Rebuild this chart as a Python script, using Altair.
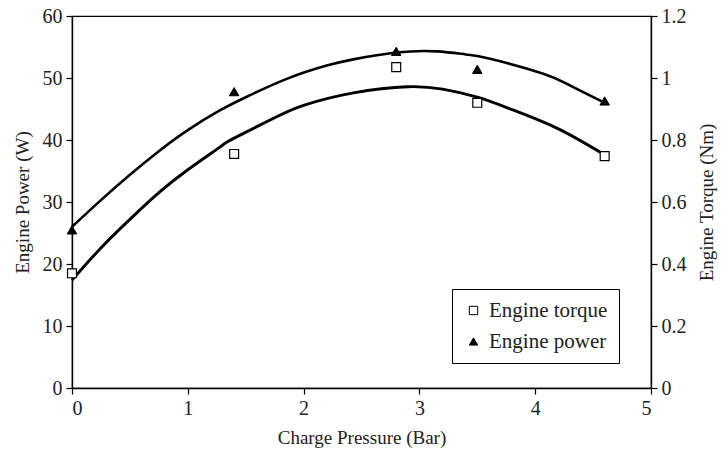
import altair as alt
import pandas as pd

# Fitted curves
power_fit_x = [0.0, 0.25, 0.5, 0.75, 1.0, 1.28, 1.5, 1.86, 2.2, 2.43, 2.8, 3.15, 3.4, 3.61, 4.07, 4.3, 4.6]
power_fit_w = [26.0, 30.3, 34.4, 38.2, 41.6, 44.8, 46.9, 49.9, 52.0, 53.0, 54.1, 54.3, 53.8, 53.1, 50.7, 48.8, 46.0]

torque_fit_x = [0.0, 0.25, 0.5, 0.75, 1.0, 1.28, 1.4, 1.75, 2.0, 2.43, 2.9, 3.2, 3.5, 3.8, 4.2, 4.6]
torque_fit_nm = [0.348, 0.452, 0.544, 0.63, 0.704, 0.778, 0.806, 0.872, 0.912, 0.952, 0.972, 0.964, 0.938, 0.898, 0.836, 0.752]

# Measured points
pressure_pts = [0.0, 1.4, 2.8, 3.5, 4.6]
power_pts = [25.5, 47.8, 54.3, 51.4, 46.3]
torque_pts = [0.37, 0.755, 1.035, 0.92, 0.748]

series_names = ["Engine torque", "Engine power"]

power_curve = pd.DataFrame({"x": power_fit_x, "y": power_fit_w})
torque_curve = pd.DataFrame({"x": torque_fit_x, "y": torque_fit_nm})
power_df = pd.DataFrame({"x": pressure_pts, "y": power_pts, "series": series_names[1]})
torque_df = pd.DataFrame({"x": pressure_pts, "y": torque_pts, "series": series_names[0]})

FONT = "Liberation Serif"
TXT = "#222222"

x_enc = alt.X("x:Q", scale=alt.Scale(domain=[0, 5], nice=False),
              axis=alt.Axis(values=[0, 1, 2, 3, 4, 5], title="Charge Pressure (Bar)",
                            format="d", titlePadding=10))

shape_scale = alt.Scale(domain=series_names, range=["square", "triangle-up"])
fill_scale = alt.Scale(domain=series_names, range=["white", "black"])
stroke_scale = alt.Scale(domain=series_names, range=["black", "black"])
legend = alt.Legend(title=None, orient="none", legendX=380, legendY=273,
                    strokeColor="black", padding=11, labelFontSize=21,
                    labelFont=FONT, labelColor=TXT, symbolSize=70,
                    symbolStrokeWidth=1,
                    rowPadding=9, labelOffset=5, fillColor="white")

y_left = alt.Y("y:Q", scale=alt.Scale(domain=[0, 60], nice=False),
               axis=alt.Axis(orient="left", values=[0, 10, 20, 30, 40, 50, 60],
                             title="Engine Power (W)", titlePadding=10))
y_right = alt.Y("y:Q", scale=alt.Scale(domain=[0, 1.2], nice=False),
                axis=alt.Axis(orient="right", values=[0, 0.2, 0.4, 0.6, 0.8, 1, 1.2],
                              format="~g", title="Engine Torque (Nm)", titleAngle=270,
                              titlePadding=30))

power_line = alt.Chart(power_curve).mark_line(color="black", strokeWidth=2.6, interpolate="natural").encode(x=x_enc, y=y_left)
power_marks = alt.Chart(power_df).mark_point(size=90, filled=False, strokeWidth=1, opacity=1).encode(
    x=x_enc, y=y_left,
    shape=alt.Shape("series:N", scale=shape_scale, legend=legend),
    fill=alt.Fill("series:N", scale=fill_scale, legend=legend),
    stroke=alt.Stroke("series:N", scale=stroke_scale, legend=legend))

torque_line = alt.Chart(torque_curve).mark_line(color="black", strokeWidth=2.9, interpolate="natural").encode(x=x_enc, y=y_right)
torque_marks = alt.Chart(torque_df).mark_point(size=80, filled=False, strokeWidth=1.2, opacity=1).encode(
    x=x_enc, y=y_right,
    shape=alt.Shape("series:N", scale=shape_scale, legend=legend),
    fill=alt.Fill("series:N", scale=fill_scale, legend=legend),
    stroke=alt.Stroke("series:N", scale=stroke_scale, legend=legend))

left = alt.layer(power_line, power_marks)
right = alt.layer(torque_line, torque_marks)

chart = alt.layer(left, right).resolve_scale(y="independent").properties(
    width=579, height=372,
    autosize=alt.AutoSizeParams(type="none"),
    padding={"left": 72, "top": 16, "right": 71, "bottom": 68},
    background="white",
).configure_view(stroke="black", strokeWidth=1.2).configure_axis(
    grid=False, domainColor="black", domainWidth=1.4, tickColor="black", tickWidth=1.2,
    tickSize=6, labelFont=FONT, labelFontSize=20, labelColor=TXT, labelPadding=4,
    titleFont=FONT, titleFontSize=19, titleFontWeight="normal", titleColor=TXT,
)

chart.save("out.html", embed_options={"renderer": "svg", "actions": False})
